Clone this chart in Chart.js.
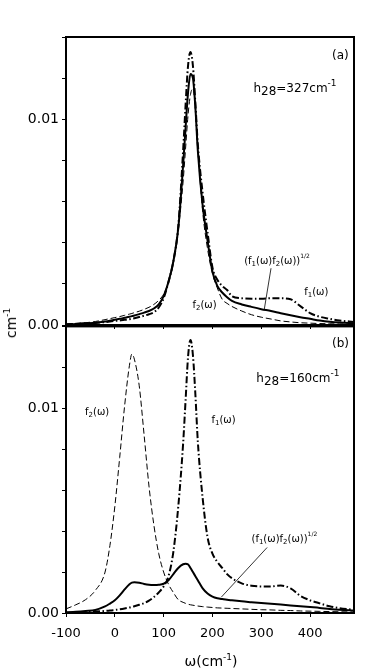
<!DOCTYPE html>
<html>
<head>
<meta charset="utf-8">
<script src="https://cdn.jsdelivr.net/npm/chart.js@4.4.1/dist/chart.umd.min.js"></script>
<style>
  html, body { margin: 0; padding: 0; background: #fff; }
  body { width: 374px; height: 671px; position: relative; overflow: hidden; font-family: "DejaVu Sans", sans-serif; color: #000; }
  canvas { position: absolute; left: 0; }
  #chartA { top: 0; }
  #chartB { top: 315px; }
  .ytitle { position: absolute; left: 11px; top: 323px; transform: translate(-50%, -50%) rotate(-90deg); font-size: 14px; white-space: nowrap; line-height: 14px; }
  .xtitle { position: absolute; left: 211px; top: 661px; transform: translate(-50%, -50%); font-size: 14px; white-space: nowrap; line-height: 14px; }
  sup { font-size: 9px; vertical-align: 6px; line-height: 0; }
</style>
</head>
<body>
<canvas id="chartA" width="374" height="340"></canvas>
<canvas id="chartB" width="374" height="356"></canvas>
<div class="ytitle">cm<sup>-1</sup></div>
<div class="xtitle">ω(cm<sup>-1</sup>)</div>
<script>
// frequency grid (cm-1)
const omega = [-100, -80, -60, -40, -20, -10, 0, 10, 20, 30, 35, 40, 50, 60, 70, 80, 90, 100, 110, 120,
  130, 140, 145, 150, 155, 160, 165, 170, 180, 190, 200, 210, 220, 230, 240, 260, 280, 300, 320, 340,
  360, 380, 400, 420, 440, 460, 490];

// panel (a), h28 = 327 cm-1
const aF1 = [0.00003, 0.00005, 0.00007, 0.0001, 0.00014, 0.00017, 0.0002, 0.00022, 0.00025, 0.00028,
  0.0003, 0.00033, 0.00039, 0.00045, 0.00052, 0.00062, 0.00085, 0.0013, 0.0021, 0.0031,
  0.0048, 0.0085, 0.0107, 0.0126, 0.01327, 0.0126, 0.0108, 0.0088, 0.0064, 0.0045,
  0.0028, 0.0022, 0.0019, 0.0017, 0.0014, 0.0013, 0.00128, 0.00128, 0.0013, 0.0013,
  0.00125, 0.00092, 0.00058, 0.0004, 0.0003, 0.00022, 0.00015];
const aF2 = [0.00005, 0.00008, 0.00011, 0.00017, 0.00026, 0.00031, 0.00036, 0.00041, 0.00047, 0.00053,
  0.00056, 0.0006, 0.00067, 0.00076, 0.00086, 0.001, 0.0012, 0.0015, 0.0021, 0.0031,
  0.0046, 0.007, 0.0086, 0.0102, 0.0112, 0.0115, 0.0105, 0.0086, 0.0055, 0.0037,
  0.0025, 0.0018, 0.00125, 0.00105, 0.0009, 0.00068, 0.0005, 0.00038, 0.00029, 0.0002,
  0.00015, 0.00011, 0.00009, 0.00007, 0.00006, 0.00005, 0.00004];
const aRoot = [0.00003, 0.00005, 0.00008, 0.00011, 0.00017, 0.00021, 0.00026, 0.0003, 0.00035, 0.0004,
  0.00043, 0.00046, 0.00053, 0.0006, 0.00068, 0.0008, 0.001, 0.0014, 0.0021, 0.0031,
  0.0047, 0.0078, 0.0096, 0.0113, 0.0122, 0.012, 0.0106, 0.0085, 0.0058, 0.0041,
  0.0026, 0.0019, 0.00158, 0.00135, 0.00117, 0.001, 0.00088, 0.00077, 0.00068, 0.00057,
  0.00047, 0.00038, 0.0003, 0.00022, 0.00016, 0.00012, 0.00009];

// panel (b), h28 = 160 cm-1
const bF1 = [0.00002, 0.00003, 0.00005, 0.00007, 0.0001, 0.00012, 0.00015, 0.00018, 0.00022, 0.00027,
  0.0003, 0.00033, 0.0004, 0.00048, 0.0006, 0.00078, 0.001, 0.0013, 0.0018, 0.003,
  0.0052, 0.0083, 0.0104, 0.0125, 0.01334, 0.0126, 0.0107, 0.0084, 0.0056, 0.0037,
  0.0029, 0.0025, 0.0022, 0.0019, 0.0017, 0.00145, 0.00133, 0.0013, 0.0013, 0.00134,
  0.0012, 0.00084, 0.00062, 0.00047, 0.00033, 0.00024, 0.00015];
const bF2 = [0.0002, 0.0004, 0.00065, 0.0011, 0.002, 0.0033, 0.0052, 0.0076, 0.0101, 0.0121,
  0.01265, 0.0124, 0.0111, 0.0087, 0.0062, 0.0043, 0.0029, 0.002, 0.0014, 0.001,
  0.00065, 0.00052, 0.00047, 0.00043, 0.0004, 0.00038, 0.00036, 0.00034, 0.00031, 0.00029,
  0.00027, 0.00025, 0.00024, 0.00023, 0.00022, 0.0002, 0.00018, 0.00016, 0.00015, 0.00013,
  0.00012, 0.0001, 0.00009, 0.00008, 0.00007, 0.00006, 0.00005];
const bRoot = [0.00003, 0.00006, 0.0001, 0.00015, 0.00032, 0.00046, 0.00062, 0.00086, 0.00115, 0.0014,
  0.00148, 0.0015, 0.00148, 0.00142, 0.00138, 0.00137, 0.00138, 0.00143, 0.0016, 0.0019,
  0.0022, 0.00238, 0.0024, 0.00238, 0.0022, 0.002, 0.0018, 0.0016, 0.0012, 0.00095,
  0.0008, 0.00072, 0.00068, 0.00065, 0.00062, 0.00057, 0.00053, 0.00049, 0.00045, 0.00041,
  0.00037, 0.00033, 0.00029, 0.00025, 0.0002, 0.00016, 0.00012];

const xTicks = [-100, 0, 100, 200, 300, 400];
const yTicks = [0, 0.002, 0.004, 0.006, 0.008, 0.01, 0.012, 0.014];
const yLabelled = [0, 0.01];

const FONT = '"DejaVu Sans", sans-serif';
const pts = arr => arr.map((v, i) => ({ x: omega[i], y: v }));

function lines(f1, f2, root) {
    return [
        { label: "f1", data: pts(f1), borderWidth: 2, borderDash: [7, 2.5, 1.5, 2.5] },
        { label: "f2", data: pts(f2), borderWidth: 1, borderDash: [6, 3] },
        { label: "root", data: pts(root), borderWidth: 2 }
    ].map(d => Object.assign({ borderColor: "#000", pointRadius: 0, fill: false, cubicInterpolationMode: "monotone" }, d));
}

// text pieces: [text, size, dy]
const f1Text = [["f", 10, 0], ["1", 7, 2], ["(ω)", 10, 0]];
const f2Text = [["f", 10, 0], ["2", 7, 2], ["(ω)", 10, 0]];
const rootText = [["(f", 10, 0], ["1", 7, 2], ["(ω)f", 10, 0], ["2", 7, 2], ["(ω))", 10, 0], ["1/2", 6, -6]];

const notesA = [
    { w: 445, v: 0.01293, parts: [["(a)", 12, 0]] },
    { w: 284, v: 0.01135, parts: [["h", 12, 0], ["28", 12, 3], ["=327cm", 12, 0], ["-1", 9, -6]] },
    { w: 265, v: 0.00295, parts: rootText },
    { w: 388, v: 0.00144, parts: f1Text },
    { w: 159, v: 0.00081, parts: f2Text }
];
const leadA = [[320, 0.00276], [306, 0.00073]];

const notesB = [
    { w: 445, v: 0.01297, parts: [["(b)", 12, 0]] },
    { w: 290, v: 0.01128, parts: [["h", 12, 0], ["28", 12, 3], ["=160cm", 12, 0], ["-1", 9, -6]] },
    { w: -61, v: 0.00968, parts: f2Text },
    { w: 198, v: 0.00926, parts: f1Text },
    { w: 280, v: 0.00346, parts: rootText }
];
const leadB = [[312, 0.0032], [218, 0.00077]];

const framePlugin = {
    id: "frame",
    afterDatasetsDraw(chart) {
        const { ctx, chartArea: a } = chart;
        ctx.save();
        ctx.strokeStyle = "#000";
        ctx.lineWidth = 2;
        ctx.strokeRect(a.left, a.top, a.right - a.left, a.bottom - a.top);
        ctx.restore();
    }
};

function notesPlugin(notes, lead) {
    return {
        id: "notes",
        afterDraw(chart) {
            const { ctx } = chart;
            const sx = chart.scales.x, sy = chart.scales.y;
            ctx.save();
            ctx.fillStyle = "#000";
            ctx.textBaseline = "alphabetic";
            notes.forEach(n => {
                let cx = sx.getPixelForValue(n.w);
                const y = sy.getPixelForValue(n.v);
                n.parts.forEach(([t, size, dy]) => {
                    ctx.font = size + "px " + FONT;
                    ctx.fillText(t, cx, y + dy);
                    cx += ctx.measureText(t).width;
                });
            });
            ctx.strokeStyle = "#000";
            ctx.lineWidth = 0.8;
            ctx.beginPath();
            ctx.moveTo(sx.getPixelForValue(lead[0][0]), sy.getPixelForValue(lead[0][1]));
            ctx.lineTo(sx.getPixelForValue(lead[1][0]), sy.getPixelForValue(lead[1][1]));
            ctx.stroke();
            ctx.restore();
        }
    };
}

function makeChart(id, datasets, notes, lead, padTop, xAxisH, showX) {
    return new Chart(document.getElementById(id), {
        type: "line",
        data: { datasets },
        options: {
            responsive: false,
            animation: false,
            events: [],
            layout: { padding: { left: 0, right: 20, top: padTop, bottom: 0 } },
            plugins: { legend: { display: false }, tooltip: { enabled: false } },
            scales: {
                x: {
                    type: "linear", min: -100, max: 490,
                    afterBuildTicks: s => { s.ticks = xTicks.map(v => ({ value: v })); },
                    afterFit: s => { s.height = xAxisH; },
                    grid: { drawOnChartArea: false, drawTicks: true, tickLength: 4, color: "#000", lineWidth: 1 },
                    border: { display: false },
                    ticks: {
                        color: "#000", font: { family: FONT, size: 13 }, padding: 9,
                        maxRotation: 0, autoSkip: false,
                        callback: v => showX ? String(v) : ""
                    }
                },
                y: {
                    type: "linear", min: 0, max: 0.014,
                    afterBuildTicks: s => { s.ticks = yTicks.map(v => ({ value: v })); },
                    afterFit: s => { s.width = 66; },
                    grid: { drawOnChartArea: false, drawTicks: true, tickLength: 4, color: "#000", lineWidth: 1 },
                    border: { display: false },
                    ticks: {
                        color: "#000", font: { family: FONT, size: 14 }, padding: 3,
                        callback: v => yLabelled.includes(v) ? v.toFixed(2) : ""
                    }
                }
            }
        },
        plugins: [framePlugin, notesPlugin(notes, lead)]
    });
}

makeChart("chartA", lines(aF1, aF2, aRoot), notesA, leadA, 37, 15, false);
makeChart("chartB", lines(bF1, bF2, bRoot), notesB, leadB, 10, 58, true);
</script>
</body>
</html>
